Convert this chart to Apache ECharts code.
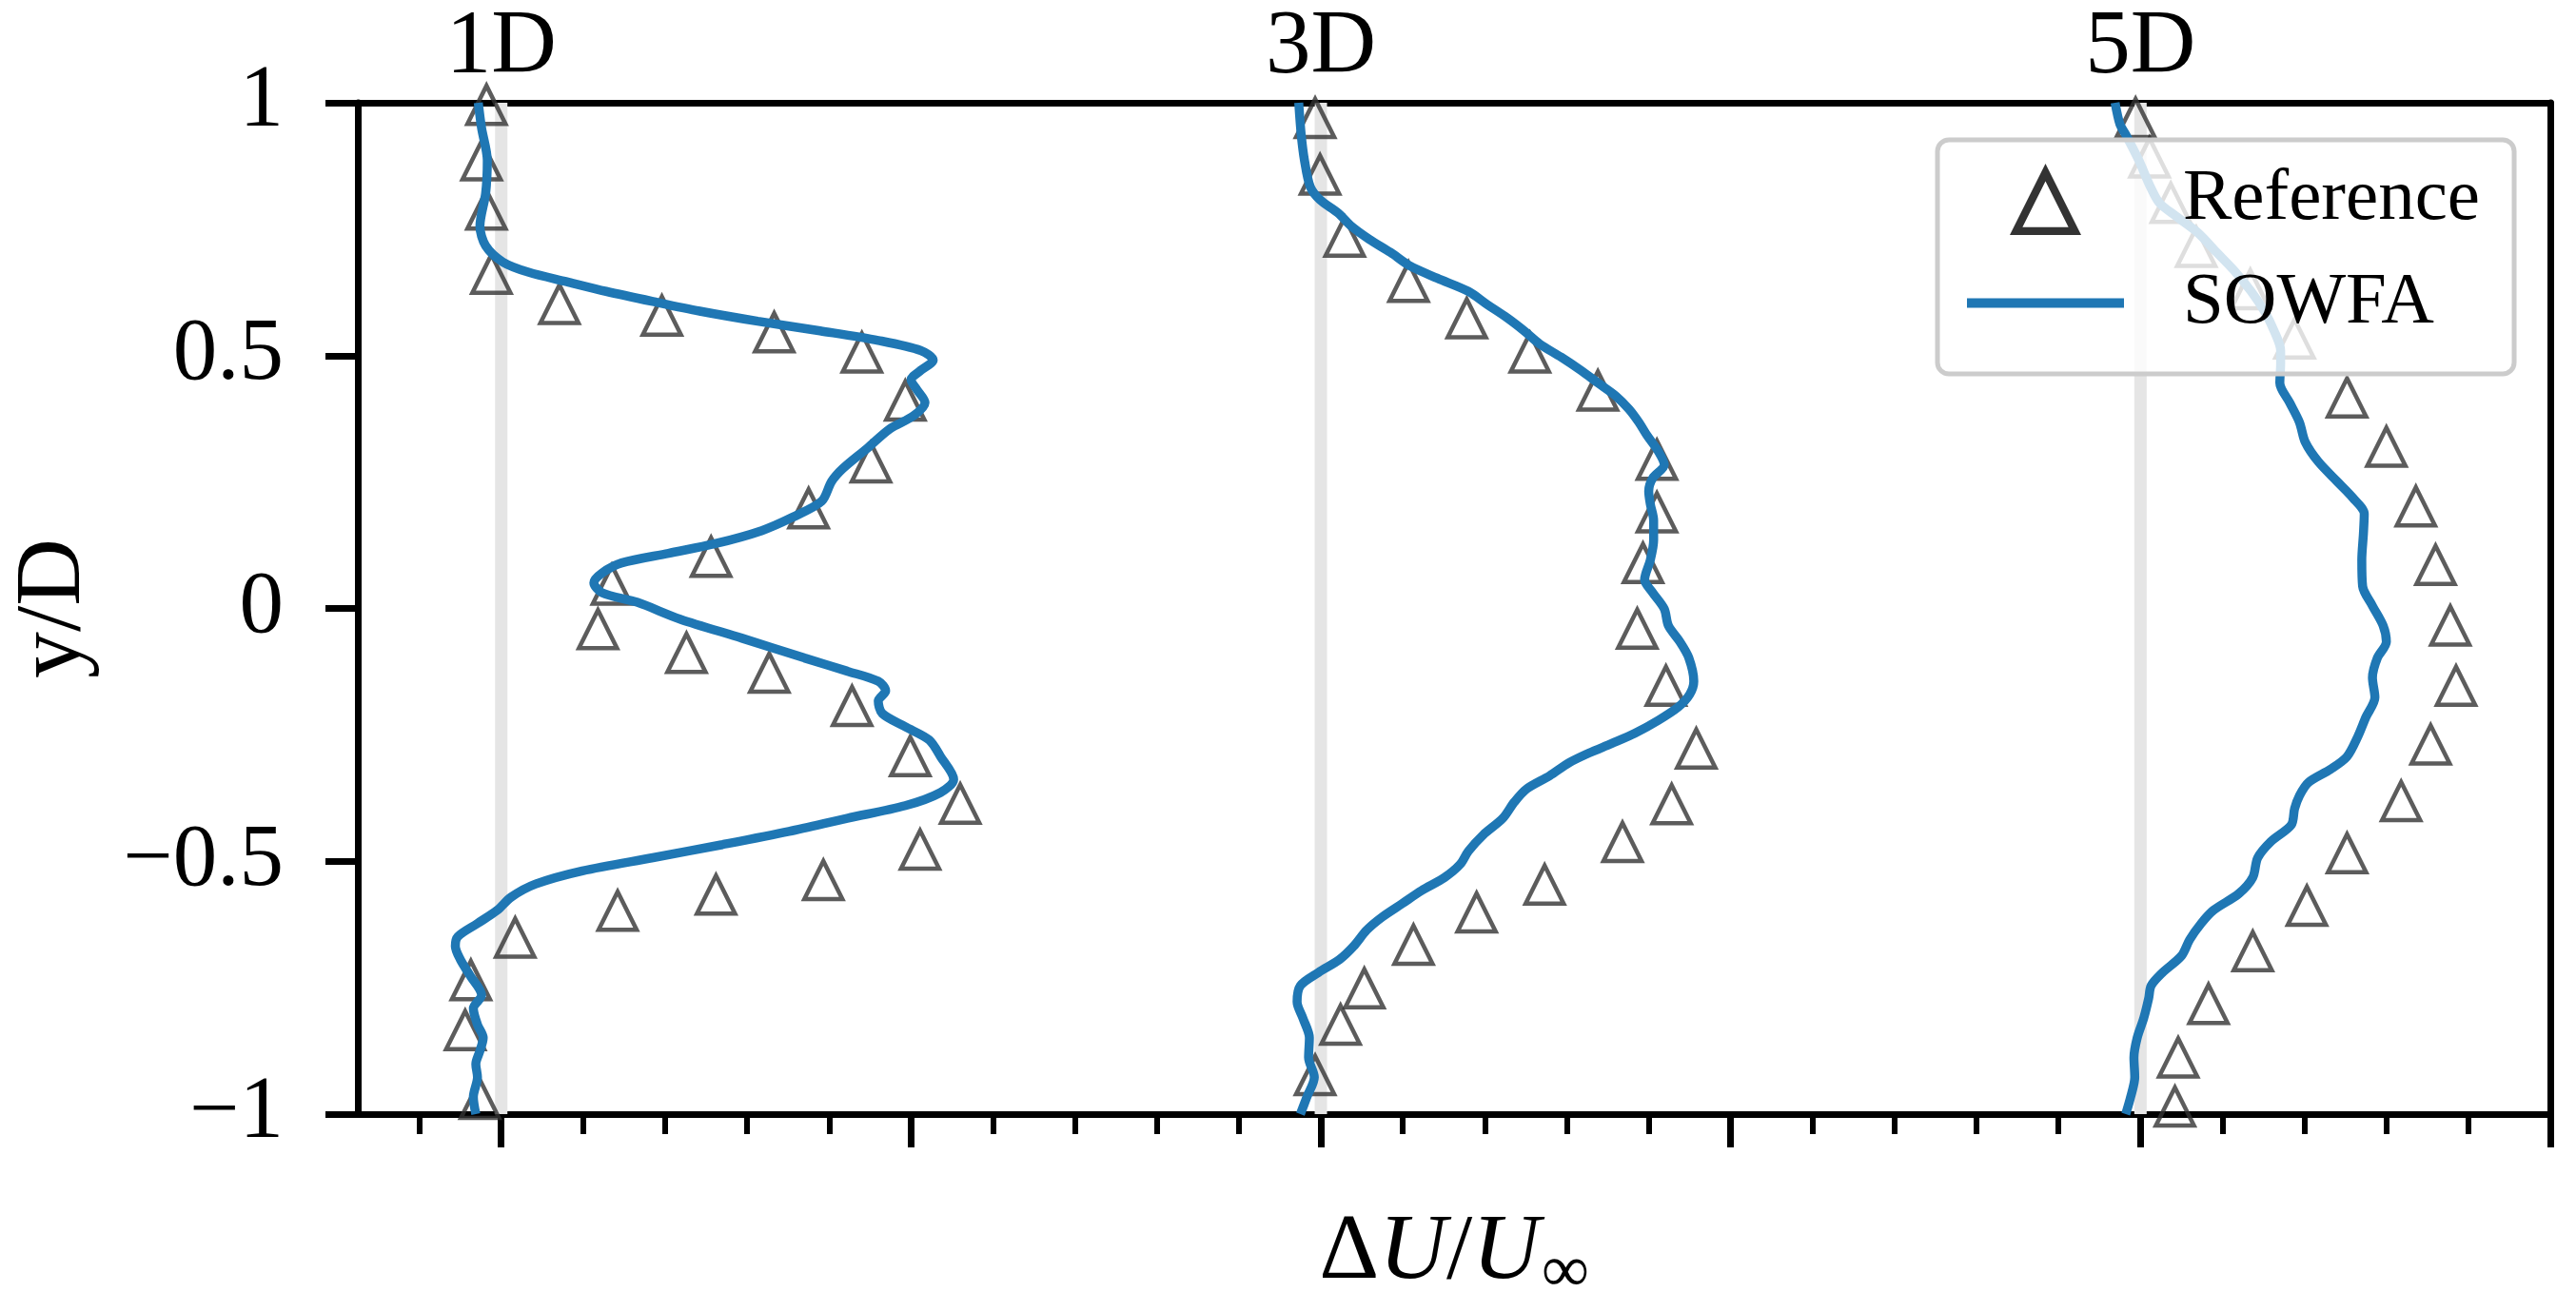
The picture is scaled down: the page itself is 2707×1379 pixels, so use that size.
<!DOCTYPE html>
<html>
<head>
<meta charset="utf-8">
<script src="https://cdn.jsdelivr.net/npm/echarts@6/dist/echarts.min.js"></script>
<style>
html,body{margin:0;padding:0;background:#fff;}
#chart{width:2707px;height:1379px;}
</style>
</head>
<body>
<div id="chart"></div>
<script>
// ---- categories / stations ----
const stations = ['1D', '3D', '5D'];
const stationOffsets = [0, 1, 2];

// ---- axis ticks ----
const yTicks = [-1, -0.5, 0, 0.5, 1];
const xMajorTicks = [0, 0.5, 1, 1.5, 2, 2.5];
const xMinorTicks = [-0.1, 0.1, 0.2, 0.3, 0.4, 0.6, 0.7, 0.8, 0.9, 1.1, 1.2, 1.3, 1.4,
                     1.6, 1.7, 1.8, 1.9, 2.1, 2.2, 2.3, 2.4];
const xRange = [-0.175, 2.5];

// ---- Reference (triangles): [deltaU/Uinf, y/D] ----
const ref1D = [[-0.018,0.996],[-0.024,0.886],[-0.018,0.789],[-0.012,0.662],[0.071,0.602],[0.196,0.579],
  [0.333,0.546],[0.44,0.506],[0.493,0.411],[0.451,0.289],[0.375,0.198],[0.256,0.102],[0.135,0.047],
  [0.118,-0.041],[0.226,-0.088],[0.327,-0.127],[0.428,-0.193],[0.499,-0.292],[0.56,-0.386],[0.511,-0.477],
  [0.393,-0.537],[0.262,-0.566],[0.142,-0.598],[0.017,-0.651],[-0.037,-0.735],[-0.044,-0.834],[-0.026,-0.97]];
const ref3D = [[-0.007,0.97],[-0.001,0.858],[0.029,0.735],[0.107,0.646],[0.178,0.574],[0.255,0.506],
  [0.338,0.431],[0.41,0.294],[0.41,0.19],[0.393,0.09],[0.386,-0.04],[0.421,-0.153],[0.458,-0.277],
  [0.428,-0.387],[0.368,-0.462],[0.273,-0.546],[0.19,-0.601],[0.113,-0.665],[0.053,-0.751],[0.024,-0.823],
  [-0.007,-0.923]];
const ref5D = [[-0.006,0.97],[0.011,0.892],[0.037,0.802],[0.068,0.715],[0.134,0.631],[0.188,0.534],
  [0.252,0.417],[0.300,0.320],[0.336,0.202],[0.360,0.086],[0.378,-0.034],[0.385,-0.153],[0.354,-0.269],
  [0.318,-0.381],[0.252,-0.484],[0.203,-0.588],[0.137,-0.678],[0.083,-0.782],[0.046,-0.888],[0.042,-0.985]];

// ---- SOWFA (line): [deltaU/Uinf, y/D] ----
const sowfa1D = [[-0.028,1.0],[-0.024,0.95],[-0.017,0.886],[-0.019,0.821],[-0.026,0.756],[-0.019,0.717],
  [0.002,0.685],[0.033,0.665],[0.080,0.646],[0.128,0.627],[0.185,0.607],[0.242,0.588],[0.313,0.568],
  [0.389,0.549],[0.460,0.530],[0.512,0.510],[0.527,0.491],[0.512,0.471],[0.500,0.452],[0.507,0.433],
  [0.517,0.407],[0.503,0.381],[0.474,0.355],[0.446,0.316],[0.417,0.277],[0.403,0.251],[0.391,0.212],
  [0.355,0.180],[0.318,0.154],[0.261,0.128],[0.204,0.109],[0.147,0.090],[0.123,0.070],[0.113,0.051],
  [0.123,0.031],[0.166,0.012],[0.218,-0.021],[0.294,-0.059],[0.370,-0.098],[0.422,-0.124],[0.460,-0.144],
  [0.469,-0.163],[0.460,-0.183],[0.465,-0.208],[0.493,-0.234],[0.522,-0.260],[0.536,-0.293],[0.552,-0.338],
  [0.536,-0.364],[0.493,-0.390],[0.422,-0.415],[0.351,-0.441],[0.270,-0.467],[0.185,-0.493],[0.099,-0.519],
  [0.042,-0.545],[0.012,-0.571],[-0.005,-0.597],[-0.029,-0.623],[-0.053,-0.649],[-0.056,-0.668],
  [-0.050,-0.694],[-0.038,-0.726],[-0.024,-0.765],[-0.034,-0.791],[-0.029,-0.823],[-0.022,-0.849],
  [-0.026,-0.875],[-0.031,-0.901],[-0.029,-0.927],[-0.034,-0.966],[-0.031,-1.0]];
const sowfa3D = [[-0.027,1.0],[-0.024,0.937],[-0.020,0.886],[-0.013,0.834],[-0.001,0.808],[0.021,0.782],
  [0.037,0.756],[0.059,0.730],[0.085,0.704],[0.108,0.678],[0.142,0.653],[0.180,0.627],[0.203,0.601],
  [0.227,0.575],[0.248,0.549],[0.267,0.523],[0.293,0.497],[0.317,0.471],[0.338,0.446],[0.360,0.420],
  [0.376,0.394],[0.388,0.368],[0.398,0.342],[0.412,0.310],[0.419,0.284],[0.405,0.258],[0.400,0.232],
  [0.402,0.206],[0.406,0.174],[0.406,0.135],[0.402,0.096],[0.395,0.057],[0.405,0.031],[0.419,-0.001],
  [0.424,-0.034],[0.438,-0.066],[0.449,-0.098],[0.455,-0.144],[0.450,-0.170],[0.436,-0.195],[0.412,-0.221],
  [0.383,-0.247],[0.355,-0.267],[0.327,-0.286],[0.303,-0.305],[0.279,-0.331],[0.251,-0.357],[0.236,-0.383],
  [0.222,-0.415],[0.198,-0.448],[0.180,-0.480],[0.170,-0.506],[0.151,-0.532],[0.123,-0.558],[0.099,-0.584],
  [0.075,-0.610],[0.056,-0.636],[0.040,-0.668],[0.023,-0.694],[-0.003,-0.720],[-0.025,-0.746],
  [-0.029,-0.778],[-0.022,-0.810],[-0.014,-0.849],[-0.015,-0.888],[-0.008,-0.927],[-0.017,-0.966],
  [-0.025,-1.0]];
const sowfa5D = [[-0.031,1.0],[-0.025,0.957],[-0.018,0.937],[-0.002,0.886],[0.012,0.834],[0.023,0.802],
  [0.043,0.776],[0.070,0.743],[0.093,0.704],[0.116,0.665],[0.135,0.627],[0.151,0.588],[0.163,0.549],
  [0.171,0.510],[0.171,0.484],[0.170,0.446],[0.182,0.407],[0.194,0.368],[0.201,0.329],[0.217,0.290],
  [0.240,0.251],[0.259,0.219],[0.273,0.187],[0.272,0.148],[0.270,0.096],[0.271,0.044],[0.283,0.005],
  [0.296,-0.034],[0.300,-0.066],[0.289,-0.098],[0.283,-0.137],[0.286,-0.176],[0.275,-0.215],[0.265,-0.254],
  [0.252,-0.293],[0.232,-0.318],[0.205,-0.344],[0.194,-0.370],[0.188,-0.396],[0.184,-0.428],[0.159,-0.461],
  [0.143,-0.493],[0.137,-0.532],[0.120,-0.564],[0.089,-0.597],[0.074,-0.623],[0.060,-0.655],[0.050,-0.687],
  [0.027,-0.720],[0.013,-0.746],[0.010,-0.771],[0.004,-0.810],[-0.004,-0.849],[-0.008,-0.888],
  [-0.007,-0.927],[-0.012,-0.966],[-0.018,-1.0]];

const refProfiles = [ref1D, ref3D, ref5D];
const sowfaProfiles = [sowfa1D, sowfa3D, sowfa5D];

const FONT = 'Liberation Serif';
const chart = echarts.init(document.getElementById('chart'));

const markerStyle = { color: 'rgba(0,0,0,0)', borderColor: '#333333', borderWidth: 4.5 };
// bold hollow triangle for the legend (outer outline with an inner hole)
const legendTriangle = 'path://M50,0 L100,100 L0,100 Z M50,24.6 L17.8,89 L82.2,89 Z';

const series = [];
stationOffsets.forEach((off, i) => {
  series.push({
    name: 'zero-' + stations[i], type: 'line', silent: true, symbol: 'none', z: 1,
    data: [[off, yTicks[0]], [off, yTicks[yTicks.length - 1]]],
    lineStyle: { color: '#e5e5e5', width: 13 }
  });
  series.push({
    name: 'Reference', type: 'scatter', z: 2, symbol: 'triangle', symbolSize: 40,
    data: refProfiles[i].map(p => ({ value: [p[0] + off, p[1]], itemStyle: markerStyle })),
    itemStyle: { color: '#000', borderColor: '#000', borderWidth: 0 }
  });
  series.push({
    name: 'SOWFA', type: 'line', z: 3, symbol: 'none', smooth: 0.3,
    data: sowfaProfiles[i].map(p => [p[0] + off, p[1]]),
    lineStyle: { color: '#1f77b4', width: 9.5 },
    itemStyle: { color: '#1f77b4' }
  });
});

const fmtY = v => (v < 0 ? '\u2212' + Math.abs(v) : String(v));
const spine = { show: true, onZero: false, lineStyle: { color: '#000', width: 7 } };

chart.setOption({
  backgroundColor: '#fff',
  animation: false,
  grid: { left: 376, right: 27, top: 108, bottom: 207 },
  legend: {
    data: [
      { name: 'Reference', icon: legendTriangle,
        itemStyle: { color: '#000', borderWidth: 0 } },
      { name: 'SOWFA', icon: 'path://M0,0 L165,0 L165,10 L0,10 Z',
        itemStyle: { color: '#1f77b4', borderWidth: 0 } }
    ],
    orient: 'vertical', left: 2036, top: 147, z: 10,
    itemWidth: 165, itemHeight: 75, itemGap: 32,
    symbolKeepAspect: true, selectedMode: false,
    padding: [24, 36, 36, 31],
    backgroundColor: 'rgba(255,255,255,0.8)',
    borderColor: '#cccccc', borderWidth: 5, borderRadius: 12,
    formatter: name => '{t|' + name + '}',
    textStyle: { fontFamily: FONT, fontSize: 77, color: '#000',
      rich: { t: { fontFamily: FONT, fontSize: 77, color: '#000', padding: [0, 0, 0, 57] } } }
  },
  xAxis: [
    {
      type: 'value', min: xRange[0], max: xRange[1], position: 'bottom',
      name: '{a|\u0394}{b|U}{a|/}{b|U}{c|\u221E}', nameLocation: 'middle', nameGap: 76,
      nameTextStyle: { fontFamily: FONT, fontSize: 98, color: '#000',
        rich: {
          a: { fontFamily: FONT, fontSize: 98, color: '#000', lineHeight: 140 },
          b: { fontFamily: FONT, fontSize: 98, fontStyle: 'italic', color: '#000', lineHeight: 140 },
          c: { fontFamily: FONT, fontSize: 70, color: '#000', lineHeight: 70, padding: [44, 0, 0, 2] }
        } },
      axisLine: spine,
      axisTick: { show: true, inside: false, length: 35, customValues: xMajorTicks,
        lineStyle: { color: '#000', width: 7 } },
      axisLabel: { show: false },
      splitLine: { show: false }
    },
    {
      type: 'value', min: xRange[0], max: xRange[1], position: 'bottom',
      axisLine: { show: false, onZero: false },
      axisTick: { show: true, inside: false, length: 21, customValues: xMinorTicks,
        lineStyle: { color: '#000', width: 6 } },
      axisLabel: { show: false },
      splitLine: { show: false }
    },
    {
      type: 'value', min: xRange[0], max: xRange[1], position: 'top',
      axisLine: spine,
      axisTick: { show: false },
      axisLabel: { show: true, customValues: stationOffsets, margin: 9,
        fontFamily: FONT, fontSize: 95, color: '#000',
        formatter: v => stations[stationOffsets.indexOf(Math.round(v))] },
      splitLine: { show: false }
    }
  ],
  yAxis: [
    {
      type: 'value', min: yTicks[0], max: yTicks[yTicks.length - 1], interval: 0.5, position: 'left',
      name: 'y/D', nameLocation: 'middle', nameGap: 270,
      nameTextStyle: { fontFamily: FONT, fontSize: 98, color: '#000' },
      axisLine: spine,
      axisTick: { show: true, inside: false, length: 34, lineStyle: { color: '#000', width: 7 } },
      axisLabel: { show: true, margin: 78, fontFamily: FONT, fontSize: 93, color: '#000',
        padding: [11, 0, 0, 0], formatter: fmtY },
      splitLine: { show: false }
    },
    {
      type: 'value', min: yTicks[0], max: yTicks[yTicks.length - 1], interval: 0.5, position: 'right',
      axisLine: spine,
      axisTick: { show: false }, axisLabel: { show: false }, splitLine: { show: false }
    }
  ],
  series: series
});
</script>
</body>
</html>
